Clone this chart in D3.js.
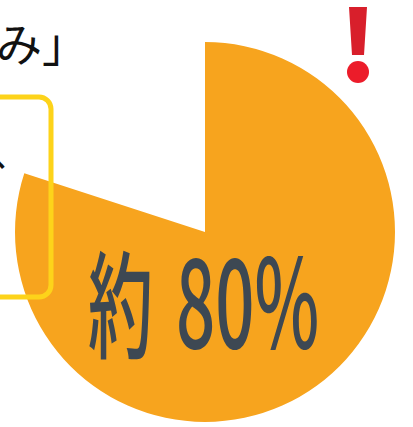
<!DOCTYPE html>
<html>
<head>
<meta charset="utf-8">
<script src="https://cdn.jsdelivr.net/npm/d3@7"></script>
<style>
  html, body { margin: 0; padding: 0; background: #fff; }
  svg { display: block; }
</style>
</head>
<body>
<div id="chart"></div>
<script>
const width = 413;
const height = 427;

// share shown in the pie (the rest is cut out)
const categories = ['該当', 'その他'];
const shares = [80, 20];
const mainLabel = '約';
const valueLabel = '80%';

const svg = d3.select('#chart')
    .append('svg')
    .attr('width', width)
    .attr('height', height);

// pie
const radius = 190;
const pie = d3.pie().sort(null).value(d => d);
const arc = d3.arc().innerRadius(0).outerRadius(radius);

const pieG = svg.append('g')
    .attr('transform', 'translate(205, 232)');

pieG.selectAll('path')
    .data(pie(shares))
    .enter().append('path')
    .attr('d', arc)
    .attr('fill', (d, i) => i === 0 ? '#f7a41e' : 'none')
    .attr('class', (d, i) => categories[i]);

// value label
svg.append('text')
    .attr('transform', 'translate(88, 349) scale(0.56, 1)')
    .attr('font-family', 'Noto Sans CJK JP')
    .attr('font-size', 116)
    .attr('font-weight', 500)
    .attr('fill', '#3d4853')
    .text(mainLabel);

svg.append('text')
    .attr('transform', 'translate(176, 348) scale(0.56, 1)')
    .attr('font-family', 'Noto Sans CJK JP')
    .attr('font-size', 123)
    .attr('font-weight', 500)
    .attr('fill', '#3d4853')
    .text(valueLabel);

// surrounding page bits
svg.append('text')
    .attr('x', -4)
    .attr('y', 61)
    .attr('font-family', 'Noto Sans CJK JP')
    .attr('font-size', 46)
    .attr('fill', '#111')
    .text('み」');

svg.append('text')
    .attr('x', -9)
    .attr('y', 166)
    .attr('font-family', 'Noto Sans CJK JP')
    .attr('font-size', 40)
    .attr('fill', '#111')
    .text('、');

svg.append('rect')
    .attr('x', -30)
    .attr('y', 97)
    .attr('width', 81)
    .attr('height', 200)
    .attr('rx', 12)
    .attr('fill', 'none')
    .attr('stroke', '#fdd31a')
    .attr('stroke-width', 5);

// exclamation mark
svg.append('path')
    .attr('d', 'M349,7 L367,7 L364,55 L352,55 Z')
    .attr('fill', '#d81f2b');
svg.append('circle')
    .attr('cx', 358)
    .attr('cy', 72)
    .attr('r', 11)
    .attr('fill', '#ec1c2a');
</script>
</body>
</html>
